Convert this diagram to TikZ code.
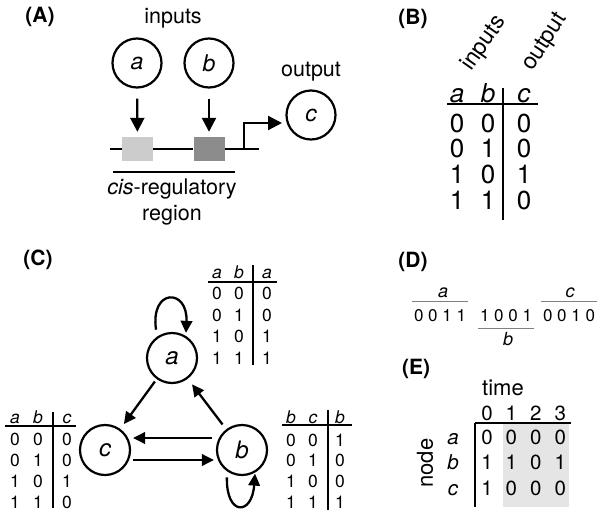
\documentclass[tikz,border=0pt]{standalone}
\usepackage{fontspec}
\setmainfont{TeX Gyre Heros}
\usetikzlibrary{arrows.meta}
\newcommand{\fsz}[1]{\fontsize{#1pt}{#1pt}\selectfont}
\newcommand{\siteacolor}{black!20!white}
\newcommand{\sitebcolor}{black!45!white}
\newcommand{\shadecolor}{black!10!white}
\newcommand{\barcolor}{black!50!white}

\tikzset{
  panel/.style={font=\bfseries\fsz{21}, inner sep=0pt},
  word/.style={font=\fsz{21.5}, inner sep=0pt},
  gene/.style={circle, draw, line width=2.2pt, minimum size=49pt, inner sep=0pt, font=\itshape\fsz{23}},
  netnode/.style={gene, minimum size=50pt, font=\itshape\fsz{24}},
  site/.style={minimum width=31pt, minimum height=24pt, inner sep=0pt},
  cellB/.style={font=\fsz{26}, inner sep=0pt, text height=18.5pt, text depth=0pt},
  cellC/.style={font=\fsz{17.5}, inner sep=0pt, text height=12.4pt, text depth=0pt},
  cellE/.style={font=\fsz{20.5}, inner sep=0pt, text height=14.5pt, text depth=0pt},
  seq/.style={font=\fsz{17}, inner xsep=1.5pt, inner ysep=7pt, text height=12pt, text depth=0pt},
  wire/.style={line width=2.3pt},
  rule/.style={line width=1.6pt},
  bigtip/.style={-{Triangle[length=14pt, width=14pt]}},
}

\begin{document}
\begin{tikzpicture}[x=1pt, y=-1pt, >={Triangle[length=12pt, width=11.5pt]}]
  \useasboundingbox (0,0) rectangle (605,517);

  % (A) cis-regulatory logic
  \node[panel] (labA) at (40,17) {(A)};
  \node[word] (inputs) at (173,18) {inputs};
  \node[gene] (Aa) at (137,63) {a};
  \node[gene] (Ab) at (209,63) {b};
  \node[word] (output) at (311,72) {output};
  \node[gene] (Ac) at (311,115) {c};
  \node[site, fill=\siteacolor] (siteA) at (137.5,149) {};
  \node[site, fill=\sitebcolor] (siteB) at (209,149) {};
  \coordinate (dnaL) at (110,149);
  \coordinate (dnaR) at (259,149);
  \coordinate (tss) at (244,149);
  \coordinate (tssEnd) at (282,123);
  \draw[wire] (dnaL) -- (siteA) (siteA) -- (siteB) (siteB) -- (dnaR);
  \draw[wire, bigtip] (tss) |- (tssEnd);
  \draw[wire, bigtip, shorten <=10pt, shorten >=5pt] (Aa) -- (siteA);
  \draw[wire, bigtip, shorten <=10pt, shorten >=5pt] (Ab) -- (siteB);
  \coordinate (regL) at (113,172);
  \coordinate (regR) at (235,172);
  \draw[rule] (regL) -- (regR);
  \node[word, align=center, font=\fontsize{21.5pt}{26pt}\selectfont] (region) at (172,202) {\textit{cis}-regulatory\\region};

  % (B) truth table
  \node[panel] (labB) at (413,19) {(B)};
  \node[word, font=\fsz{23}, rotate=55, anchor=base west] (inB) at (471,72) {inputs};
  \node[word, font=\fsz{23}, rotate=57, anchor=base west] (outB) at (532,72) {output};
  \node[cellB] (B-0-1) at (457,93) {\textit{a}};
  \node[cellB] (B-0-2) at (488,93) {\textit{b}};
  \node[cellB] (B-0-3) at (524,93) {\textit{c}};
  \foreach \p/\q/\r [count=\i] in {0/0/0, 0/1/0, 1/0/1, 1/1/0} {
    \node[cellB] (B-\i-1) at (457, {97.3+25.7*\i}) {\p};
    \node[cellB] (B-\i-2) at (488, {97.3+25.7*\i}) {\q};
    \node[cellB] (B-\i-3) at (524, {97.3+25.7*\i}) {\r};
  }
  \draw[wire] (447,104) -- (538,104);
  \draw[wire] (503,88) -- (503,220);

  % (C) network
  \node[panel] (labC) at (38,260) {(C)};
  \node[netnode] (Ca) at (172,358) {a};
  \node[netnode] (Cc) at (105,450) {c};
  \node[netnode] (Cb) at (242,450) {b};
  \draw[wire, ->, shorten <=3pt, shorten >=6pt] (Ca) -- (Cc);
  \draw[wire, ->, shorten <=6pt, shorten >=7pt] (Cb) -- (Ca);
  \draw[wire, ->, shorten <=4pt, shorten >=2pt] ([yshift=12pt]Cb.west) -- ([yshift=12pt]Cc.east);
  \draw[wire, ->, shorten <=2pt, shorten >=2pt] ([yshift=-10pt]Cc.east) -- ([yshift=-10pt]Cb.west);
  \draw[wire, ->, shorten <=7pt, shorten >=3pt] (Ca.125) .. controls (150,288) and (188,288) .. (Ca.58);
  \draw[wire, ->, shorten <=6pt, shorten >=1pt] (Cb.235) .. controls (226,516) and (252,516) .. (Cb.300);

  % truth tables of the nodes
  \node[cellC] (Ta-0-1) at (217,272) {\textit{a}};
  \node[cellC] (Ta-0-2) at (239,272) {\textit{b}};
  \node[cellC] (Ta-0-3) at (267,272) {\textit{a}};
  \node[cellC] (Tc-0-1) at (15,417) {\textit{a}};
  \node[cellC] (Tc-0-2) at (38,417) {\textit{b}};
  \node[cellC] (Tc-0-3) at (67,417) {\textit{c}};
  \node[cellC] (Tb-0-1) at (291,417) {\textit{b}};
  \node[cellC] (Tb-0-2) at (313,417) {\textit{c}};
  \node[cellC] (Tb-0-3) at (340,417) {\textit{b}};
  \foreach \p/\q/\ra/\rc/\rb [count=\i] in {0/0/0/0/1, 0/1/0/0/0, 1/0/1/1/0, 1/1/1/0/1} {
    \node[cellC] (Ta-\i-1) at (217, {271.5+21.7*\i}) {\p};
    \node[cellC] (Ta-\i-2) at (239, {271.5+21.7*\i}) {\q};
    \node[cellC] (Ta-\i-3) at (267, {271.5+21.7*\i}) {\ra};
    \node[cellC] (Tc-\i-1) at (15, {418+21*\i}) {\p};
    \node[cellC] (Tc-\i-2) at (38, {418+21*\i}) {\q};
    \node[cellC] (Tc-\i-3) at (67, {418+21*\i}) {\rc};
    \node[cellC] (Tb-\i-1) at (291, {419+20.8*\i}) {\p};
    \node[cellC] (Tb-\i-2) at (313, {419+20.8*\i}) {\q};
    \node[cellC] (Tb-\i-3) at (340, {419+20.8*\i}) {\rb};
  }
  \draw[rule] (208,282) -- (277,282);
  \draw[rule] (253,265) -- (253,365);
  \draw[rule] (5,426) -- (76,426);
  \draw[rule] (53,412) -- (53,508);
  \draw[rule] (282,425) -- (352,425);
  \draw[rule] (328,410) -- (328,510);

  % (D) state string
  \node[panel] (labD) at (413,262) {(D)};
  \node[seq] (seqA) at (440,315) {0 0 1 1};
  \node[seq] (seqB) at (506,315) {1 0 0 1};
  \node[seq] (seqC) at (569,315) {0 0 1 0};
  \draw[line width=1.3pt, \barcolor] (seqA.north west) -- (seqA.north east);
  \draw[line width=1.3pt, \barcolor] (seqB.south west) -- (seqB.south east);
  \draw[line width=1.3pt, \barcolor] (seqC.north west) -- (seqC.north east);
  \node[cellC, font=\itshape\fsz{18}] (seqAlab) at (443,291) {a};
  \node[cellC, font=\itshape\fsz{18}] (seqBlab) at (508,339) {b};
  \node[cellC, font=\itshape\fsz{18}] (seqClab) at (570,291) {c};

  % (E) time course
  \node[panel] (labE) at (416,369) {(E)};
  \fill[\shadecolor] (503,424) rectangle (569,507);
  \node[word, font=\fsz{22}] (time) at (503,388) {time};
  \node[word, font=\fsz{22}, rotate=90] (nodeE) at (425,463) {node};
  \foreach \t [count=\j] in {0,1,2,3} {
    \node[cellE] (E-0-\j) at ({462.6+24.4*\j}, 413) {\t};
  }
  \foreach \n/\w/\x/\y/\z [count=\i] in {a/0/0/0/0, b/1/1/0/1, c/1/0/0/0} {
    \node[cellE] (E-\i-0) at (453, {411.5+25.5*\i}) {\textit{\n}};
    \node[cellE] (E-\i-1) at (487, {411.5+25.5*\i}) {\w};
    \node[cellE] (E-\i-2) at (511.4, {411.5+25.5*\i}) {\x};
    \node[cellE] (E-\i-3) at (535.8, {411.5+25.5*\i}) {\y};
    \node[cellE] (E-\i-4) at (560.2, {411.5+25.5*\i}) {\z};
  }
  \draw[rule] (475,423) -- (571,423);
  \draw[rule] (475,423) -- (475,507);
\end{tikzpicture}
\end{document}
